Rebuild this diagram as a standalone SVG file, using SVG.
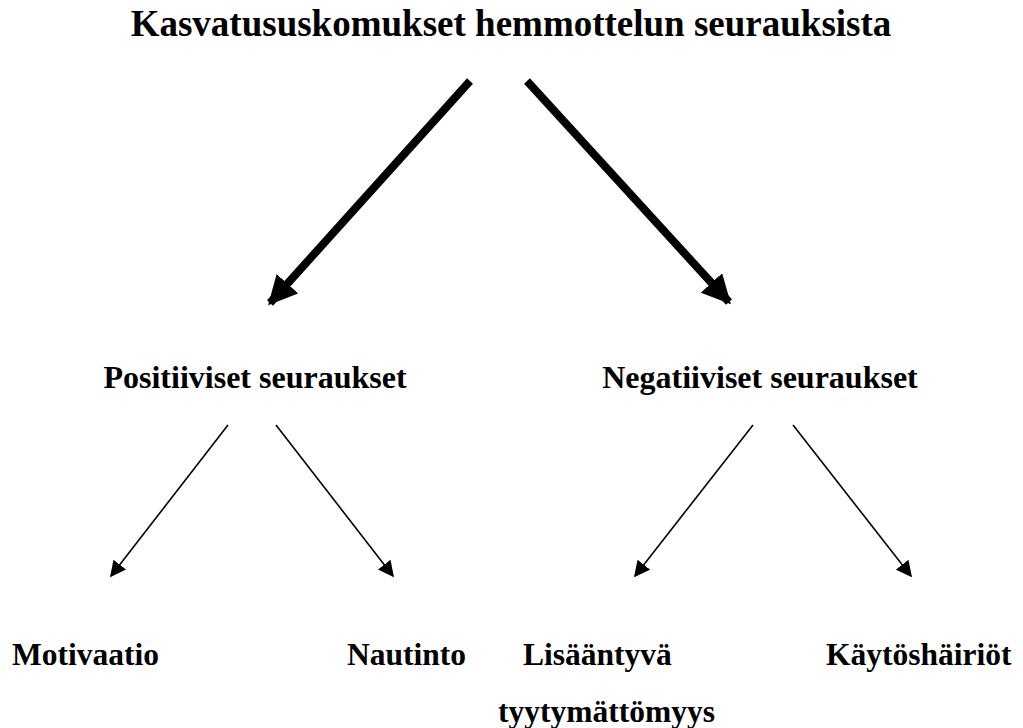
<svg xmlns="http://www.w3.org/2000/svg" width="1023" height="728" viewBox="0 0 1023 728">
<style>
text{font-family:"Liberation Serif","Times New Roman",serif;font-weight:bold;fill:#000}
.t{font-size:37px}
.m{font-size:32px}
.b{font-size:31.5px}
.thick{stroke:#000;stroke-width:8;fill:none}
.thin{stroke:#000;stroke-width:1.6;fill:none}
</style>
<defs>
<marker id="ah" viewBox="0 0 10 10" refX="9" refY="5" markerWidth="3.6" markerHeight="3.6" markerUnits="strokeWidth" orient="auto"><path d="M0,0L10,5L0,10z" fill="#000"/></marker>
<marker id="ah2" viewBox="0 0 10 10" refX="9" refY="5" markerWidth="10" markerHeight="10" markerUnits="strokeWidth" orient="auto"><path d="M0,0L10,5L0,10z" fill="#000"/></marker>
</defs>
<g id="title"><text class="t" x="511" y="36" text-anchor="middle">Kasvatususkomukset hemmottelun seurauksista</text></g>
<g id="positive"><text class="m" x="255" y="388" text-anchor="middle">Positiiviset seuraukset</text></g>
<g id="negative"><text class="m" x="760" y="388" text-anchor="middle">Negatiiviset seuraukset</text></g>
<g id="motivaatio"><text class="b" x="12" y="665">Motivaatio</text></g>
<g id="nautinto"><text class="b" x="347" y="665">Nautinto</text></g>
<g id="lisaantyva"><text class="b" x="523" y="665">Lisääntyvä</text><text class="b" x="498" y="722">tyytymättömyys</text></g>
<g id="kaytoshairiot"><text class="b" x="826" y="665">Käytöshäiriöt</text></g>
<g id="connectors">
<line class="thick" x1="470" y1="81" x2="270" y2="303" marker-end="url(#ah)"/>
<line class="thick" x1="527" y1="81" x2="729" y2="302" marker-end="url(#ah)"/>
<line class="thin" x1="228" y1="425" x2="111" y2="576" marker-end="url(#ah2)"/>
<line class="thin" x1="276" y1="425" x2="393" y2="576" marker-end="url(#ah2)"/>
<line class="thin" x1="753" y1="425" x2="635" y2="576" marker-end="url(#ah2)"/>
<line class="thin" x1="793" y1="425" x2="911" y2="576" marker-end="url(#ah2)"/>
</g>
</svg>
